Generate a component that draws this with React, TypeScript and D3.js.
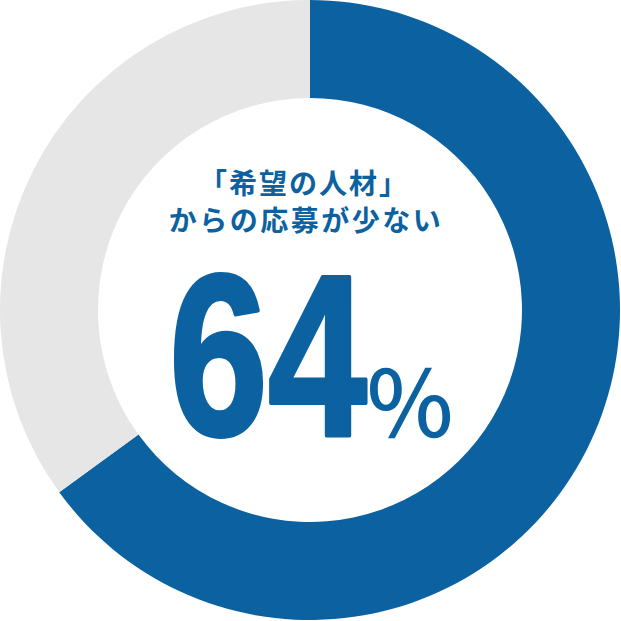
import React from 'react';
import * as d3 from 'd3';

const categories = ['該当', 'その他'];
const values = [65, 35];
const colors = ['#0c62a0', '#e6e6e6'];
const titleLines = ['「希望の人材」', 'からの応募が少ない'];
const bigValue = '64';
const unit = '％';

export default function App() {
  const size = 621;
  const cx = 310;
  const cy = 310;
  const outerR = 310;
  const innerR = 212;

  const pie = d3.pie<number>().value(d => d).sort(null);
  const arc = d3.arc<d3.PieArcDatum<number>>().innerRadius(innerR).outerRadius(outerR);
  const arcs = pie(values);

  return (
    <svg
      width={size}
      height={size}
      style={{ position: 'absolute', left: 0, top: 0, background: '#fff' }}
    >
      <g transform={`translate(${cx},${cy})`}>
        {arcs.map((a, i) => (
          <path key={categories[i]} d={arc(a) || ''} fill={colors[i]} />
        ))}
      </g>
      <g fill={colors[0]} fontFamily="'Noto Sans CJK JP', sans-serif" fontWeight={700}>
        <text x={304} y={194} fontSize={28} textAnchor="middle" letterSpacing={2}>
          {titleLines[0]}
        </text>
        <text x={306} y={231} fontSize={28} textAnchor="middle" letterSpacing={2.5}>
          {titleLines[1]}
        </text>
      </g>
      <text
        x={169}
        y={435}
        fill={colors[0]}
        stroke={colors[0]}
        strokeWidth={4}
        strokeLinejoin="round"
        fontFamily="'Liberation Sans', Arial, sans-serif"
        fontWeight={700}
        fontSize={230}
        textLength={198}
        lengthAdjust="spacingAndGlyphs"
      >
        {bigValue}
      </text>
      <text
        x={410}
        y={438}
        fill={colors[0]}
        fontFamily="'Noto Sans CJK JP', sans-serif"
        fontWeight={500}
        fontSize={92}
        textAnchor="middle"
      >
        {unit}
      </text>
    </svg>
  );
}
